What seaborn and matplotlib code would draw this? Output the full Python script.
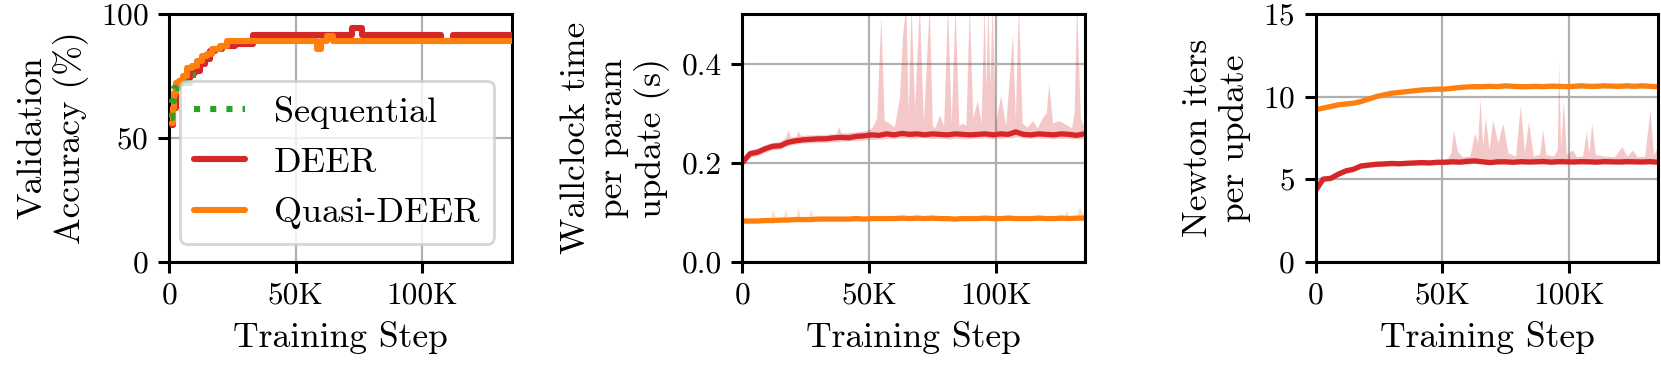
import numpy as np
import pandas as pd
import matplotlib
matplotlib.use("Agg")
import matplotlib.pyplot as plt
import seaborn as sns

# ---- panel 1: validation accuracy (step curves), x in thousands of steps
seq_x = [0.8, 1.2, 2.0, 3.5, 5.0, 8.0, 10.5]
seq_acc = [58, 65, 70, 71, 72, 75.5, 75.5]

deer_x = [1.0, 1.5, 2.5, 4.0, 6.0, 8.0, 10.0, 12.0, 14.0, 16.0, 18.0, 21.0, 26.0, 33.0,
          72.0, 76.0, 107.5, 112.0, 135.5]
deer_acc = [55, 62, 70, 72, 74, 76, 77, 80, 82, 85, 86, 87, 88, 91.5,
            94.5, 91.5, 89, 91.5, 91.5]

quasi_x = [1.0, 1.5, 2.0, 2.5, 4.0, 5.5, 7.0, 9.0, 11.0, 13.0, 15.0, 17.0, 20.0, 23.0,
           58.5, 60.0, 62.5, 64.5, 135.5]
quasi_acc = [56, 62, 68, 72, 73, 75, 78, 79, 81, 83, 84, 86, 87, 89,
             86, 89, 91, 89, 89]

# ---- panels 2 and 3: mean curves on a common grid (thousands of steps)
steps_k = [0, 3, 6, 9, 12, 15, 18, 21, 24, 27, 30, 33, 36, 39, 42, 45, 48, 51, 54, 57,
           60, 63, 66, 69, 72, 75, 78, 81, 84, 87, 90, 93, 96, 99, 102, 105, 108, 111,
           114, 117, 120, 123, 126, 129, 132, 135]

deer_time = [0.200, 0.218, 0.221, 0.228, 0.233, 0.234, 0.241, 0.244, 0.246, 0.247,
             0.248, 0.248, 0.250, 0.251, 0.250, 0.253, 0.254, 0.256, 0.255, 0.258,
             0.256, 0.259, 0.257, 0.258, 0.256, 0.258, 0.257, 0.256, 0.258, 0.257,
             0.256, 0.257, 0.258, 0.256, 0.258, 0.257, 0.262, 0.257, 0.256, 0.258,
             0.257, 0.256, 0.258, 0.257, 0.255, 0.258]
quasi_time = [0.082, 0.082, 0.082, 0.083, 0.083, 0.084, 0.084, 0.085, 0.085, 0.085,
              0.086, 0.086, 0.086, 0.086, 0.086, 0.087, 0.086, 0.087, 0.087, 0.087,
              0.087, 0.088, 0.087, 0.088, 0.087, 0.088, 0.087, 0.087, 0.086, 0.087,
              0.087, 0.087, 0.088, 0.087, 0.087, 0.088, 0.087, 0.087, 0.087, 0.088,
              0.087, 0.087, 0.088, 0.087, 0.088, 0.088]

deer_iters = [4.3, 5.0, 5.05, 5.3, 5.5, 5.6, 5.8, 5.85, 5.9, 5.92, 5.95, 5.93, 5.96,
              5.98, 6.0, 5.98, 6.02, 6.02, 6.05, 6.03, 6.08, 6.1, 6.05, 6.0, 6.05, 6.05,
              6.02, 6.06, 6.04, 6.05, 6.07, 6.03, 6.06, 6.05, 6.04, 6.06, 6.05, 6.03,
              6.06, 6.05, 6.04, 6.06, 6.05, 6.04, 6.06, 6.03]
quasi_iters = [9.2, 9.3, 9.4, 9.5, 9.55, 9.6, 9.7, 9.85, 10.0, 10.1, 10.2, 10.25, 10.3,
               10.35, 10.4, 10.42, 10.45, 10.45, 10.5, 10.55, 10.58, 10.6, 10.6, 10.62,
               10.6, 10.65, 10.62, 10.6, 10.6, 10.62, 10.6, 10.63, 10.62, 10.6, 10.62,
               10.65, 10.62, 10.62, 10.65, 10.63, 10.62, 10.65, 10.62, 10.65, 10.62, 10.6]

# ---- shaded spread bands
deer_time_band_x = [0, 3, 6, 9, 12, 15, 17, 18, 19, 21, 22, 23, 27, 33, 37, 38, 39, 45,
                    49, 51, 53, 54.7, 56, 58, 60, 62, 63.3, 64.6, 65.5, 66.6, 68, 69.9,
                    71.5, 73.8, 75, 76, 77.8, 79.5, 81, 82.5, 84, 85.5, 86.9, 88.3, 89.6,
                    91, 92.8, 94.3, 95.5, 96.2, 96.9, 97.8, 98.6, 100, 102, 104, 106.7,
                    107.8, 109, 110.5, 112.5, 114.6, 116.5, 118.4, 120, 121, 122.5, 125,
                    128.5, 130, 131, 132, 133.5, 135]
deer_time_hi = [0.208, 0.226, 0.229, 0.236, 0.241, 0.243, 0.250, 0.266, 0.252, 0.253,
                0.264, 0.255, 0.256, 0.257, 0.259, 0.272, 0.260, 0.262, 0.265, 0.270,
                0.290, 0.495, 0.285, 0.280, 0.272, 0.330, 0.460, 0.52, 0.30, 0.52,
                0.31, 0.52, 0.28, 0.52, 0.275, 0.270, 0.296, 0.275, 0.52, 0.28,
                0.52, 0.275, 0.28, 0.275, 0.52, 0.29, 0.326, 0.28, 0.52, 0.35,
                0.52, 0.36, 0.52, 0.28, 0.336, 0.275, 0.46, 0.29, 0.52, 0.28,
                0.272, 0.285, 0.27, 0.29, 0.30, 0.36, 0.28, 0.285, 0.275, 0.27,
                0.30, 0.52, 0.29, 0.27]
deer_time_lo = [0.195, 0.211, 0.214, 0.221, 0.226, 0.227, 0.233, 0.234, 0.235, 0.237,
                0.238, 0.239, 0.240, 0.241, 0.242, 0.242, 0.243, 0.245, 0.246, 0.247,
                0.247, 0.247, 0.248, 0.249, 0.248, 0.250, 0.250, 0.250, 0.250, 0.249,
                0.249, 0.250, 0.250, 0.249, 0.248, 0.249, 0.249, 0.248, 0.248, 0.248,
                0.249, 0.249, 0.248, 0.248, 0.248, 0.249, 0.249, 0.249, 0.250, 0.250,
                0.249, 0.249, 0.248, 0.249, 0.249, 0.250, 0.250, 0.252, 0.252, 0.250,
                0.249, 0.249, 0.250, 0.249, 0.249, 0.249, 0.248, 0.249, 0.249, 0.248,
                0.248, 0.248, 0.248, 0.249]

quasi_time_band_x = [0, 10, 11, 12, 13, 16, 17, 18, 21, 22, 23, 26, 27, 28, 40, 60, 80,
                     100, 120, 127, 128, 129, 132, 133, 135]
quasi_time_hi = [0.086, 0.087, 0.088, 0.106, 0.088, 0.088, 0.106, 0.088, 0.089, 0.109,
                 0.089, 0.089, 0.106, 0.089, 0.090, 0.091, 0.091, 0.091, 0.091, 0.091,
                 0.104, 0.092, 0.092, 0.112, 0.093]
quasi_time_lo = [0.079, 0.080, 0.080, 0.080, 0.080, 0.081, 0.081, 0.081, 0.082, 0.082,
                 0.082, 0.082, 0.082, 0.082, 0.083, 0.084, 0.084, 0.084, 0.084, 0.084,
                 0.084, 0.084, 0.084, 0.084, 0.085]

deer_iters_band_x = [0, 3, 6, 9, 12, 15, 18, 24, 30, 36, 42, 48, 52, 53.5, 54.5, 56, 58,
                     61, 62.8, 64, 65, 66, 67.1, 68.5, 70, 72, 74, 76, 79, 80.9, 82.5,
                     84.1, 86, 88.5, 89.7, 91, 94, 95.5, 96, 96.8, 97.9, 99, 101.6, 103,
                     105.5, 106.9, 108, 109.1, 110.5, 114, 118, 121, 123, 125.3, 127,
                     130, 132.1, 133.5, 135]
deer_iters_hi = [4.5, 5.15, 5.2, 5.45, 5.65, 5.75, 5.95, 6.05, 6.1, 6.12, 6.15, 6.18,
                 6.25, 6.6, 7.98, 6.7, 6.35, 6.4, 7.78, 7.2, 9.9, 7.0, 8.78, 6.8, 8.58,
                 7.2, 8.38, 6.6, 6.4, 9.49, 6.6, 8.48, 6.4, 6.5, 7.98, 6.5, 6.4, 6.8,
                 12.2, 7.0, 9.79, 6.5, 6.77, 6.35, 6.4, 7.87, 6.6, 8.38, 6.5, 6.4, 6.35,
                 6.97, 6.4, 6.77, 6.35, 6.4, 9.19, 6.5, 6.9]
deer_iters_lo = [4.1, 4.85, 4.9, 5.15, 5.35, 5.45, 5.65, 5.75, 5.8, 5.81, 5.85, 5.87,
                 5.87, 5.9, 5.9, 5.9, 5.88, 5.93, 5.95, 5.95, 5.93, 5.9, 5.88, 5.87,
                 5.88, 5.9, 5.9, 5.9, 5.88, 5.9, 5.9, 5.89, 5.9, 5.91, 5.91, 5.9, 5.88,
                 5.9, 5.9, 5.91, 5.91, 5.9, 5.89, 5.89, 5.9, 5.91, 5.9, 5.9, 5.89, 5.9,
                 5.9, 5.89, 5.9, 5.9, 5.9, 5.89, 5.9, 5.91, 5.88]

# ---- axis text
x_ticks = [0, 50000, 100000]
x_tick_labels = ["0", "50K", "100K"]
acc_ticks = [0, 50, 100]
time_ticks = [0.0, 0.2, 0.4]
time_tick_labels = ["0.0", "0.2", "0.4"]
iter_ticks = [0, 5, 10, 15]
xlabel = "Training Step"
ylabels = ["Validation\nAccuracy (%)", "Wallclock time\nper param\nupdate (s)",
           "Newton iters\nper update"]

RED = "#d62728"
ORANGE = "#ff7f0e"
GREEN = "#2ca02c"

sns.set_theme(style="ticks")
plt.rcParams.update({
    "font.family": ["cmr10", "DejaVu Serif"],
    "mathtext.fontset": "cm",
    "axes.formatter.use_mathtext": True,
    "font.size": 12,
    "axes.labelsize": 12.8,
    "xtick.labelsize": 11.3,
    "ytick.labelsize": 11.3,
    "legend.fontsize": 13,
    "axes.edgecolor": "black",
    "axes.linewidth": 1.1,
    "xtick.major.size": 4,
    "ytick.major.size": 4,
    "xtick.major.width": 1.1,
    "ytick.major.width": 1.1,
    "xtick.color": "black",
    "ytick.color": "black",
    "text.color": "black",
    "axes.labelcolor": "black",
    "grid.color": "#b0b0b0",
    "grid.linewidth": 0.8,
})


def k(vals):
    return [v * 1000 for v in vals]


fig, axes = plt.subplots(1, 3, figsize=(1661 / 200, 368 / 200), dpi=200)
fig.subplots_adjust(left=0.1019, right=0.9984, bottom=0.2889, top=0.962, wspace=0.672)

# panel 1
ax = axes[0]
sns.lineplot(x=k(deer_x), y=deer_acc, ax=ax, color=RED, lw=2.2,
             drawstyle="steps-post", label="DEER", zorder=3)
sns.lineplot(x=k(quasi_x), y=quasi_acc, ax=ax, color=ORANGE, lw=2.2,
             drawstyle="steps-post", label="Quasi-DEER", zorder=4)
sns.lineplot(x=k(seq_x), y=seq_acc, ax=ax, color=GREEN, lw=2.2, ls=":",
             drawstyle="steps-post", label="Sequential", zorder=5)
ax.set_ylim(0, 100)
ax.set_yticks(acc_ticks)
h, l = ax.get_legend_handles_labels()
order = [l.index("Sequential"), l.index("DEER"), l.index("Quasi-DEER")]
ax.legend([h[i] for i in order], [l[i] for i in order], loc="lower right",
          handlelength=1.4, framealpha=0.8, edgecolor="#cccccc", fancybox=True)

# panel 2
ax = axes[1]
ax.fill_between(k(deer_time_band_x), deer_time_lo, deer_time_hi, color=RED,
                alpha=0.25, lw=0)
ax.fill_between(k(quasi_time_band_x), quasi_time_lo, quasi_time_hi, color=ORANGE,
                alpha=0.25, lw=0)
sns.lineplot(x=k(steps_k), y=deer_time, ax=ax, color=RED, lw=1.9)
sns.lineplot(x=k(steps_k), y=quasi_time, ax=ax, color=ORANGE, lw=1.9)
ax.set_ylim(0, 0.5)
ax.set_yticks(time_ticks)
ax.set_yticklabels(time_tick_labels)

# panel 3
ax = axes[2]
ax.fill_between(k(deer_iters_band_x), deer_iters_lo, deer_iters_hi, color=RED,
                alpha=0.25, lw=0)
sns.lineplot(x=k(steps_k), y=deer_iters, ax=ax, color=RED, lw=1.9)
sns.lineplot(x=k(steps_k), y=quasi_iters, ax=ax, color=ORANGE, lw=1.9)
ax.set_ylim(0, 15)
ax.set_yticks(iter_ticks)

for ax, lab in zip(axes, ylabels):
    ax.set_xlim(0, 135400)
    ax.set_xticks(x_ticks)
    ax.set_xticklabels(x_tick_labels)
    ax.set_xlabel(xlabel)
    ax.set_ylabel(lab)
    ax.grid(True)
    ax.set_axisbelow(True)

fig.savefig("out.png", dpi=200)
